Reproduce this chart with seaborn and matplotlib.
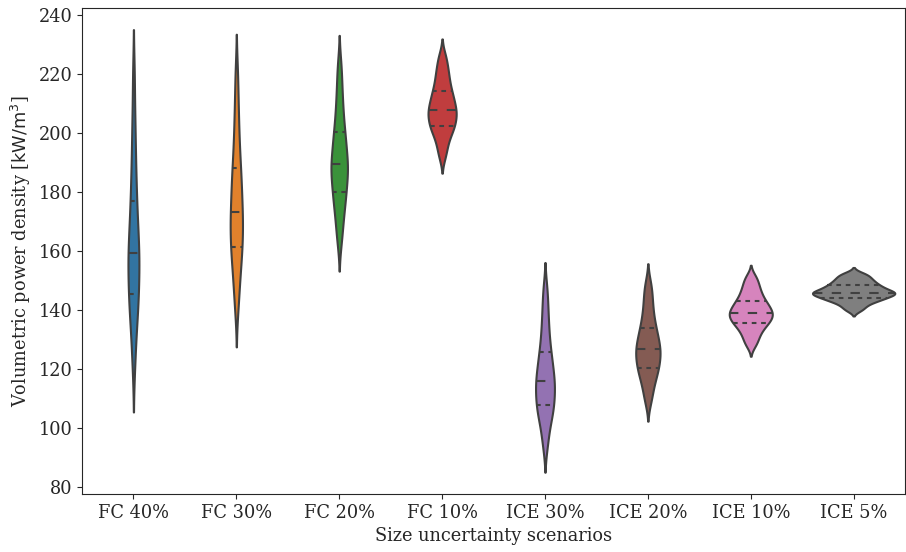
import numpy as np
import pandas as pd
import seaborn as sns
from matplotlib import pyplot as plt

scenarios = ['FC 40%', 'FC 30%', 'FC 20%', 'FC 10%', 'ICE 30%', 'ICE 20%', 'ICE 10%', 'ICE 5%']

# volumetric power density samples [kW/m3]
fc40 = [121, 129, 134, 138, 141, 143.5, 145.4, 148, 151, 153.5, 155.5, 157.5, 159.3,
        161.5, 164, 167, 170, 173.5, 177, 181.5, 186.5, 192, 199, 207, 219.5]
fc30 = [140.5, 146, 150.5, 154, 156.8, 159.2, 161.3, 163.5, 165.5, 167.5, 169.5, 171.5, 173.3,
        175.5, 178, 180.5, 183, 185.5, 188, 191.5, 195.5, 200, 205.5, 212, 220.5]
fc20 = [163, 167.5, 171, 174, 176.3, 178.3, 180.1, 182, 183.8, 185.5, 187, 188.3, 189.4,
        190.8, 192.5, 194.5, 196.5, 198.3, 200.2, 202.8, 205.8, 209.2, 213, 217.8, 223.3]
fc10 = [192, 195, 197.3, 199.2, 200.6, 201.6, 202.5, 203.5, 204.5, 205.5, 206.3, 207.1, 207.9,
        208.8, 209.8, 210.9, 212, 213.1, 214.3, 215.8, 217.5, 219.3, 221.2, 223.5, 226.3]
ice30 = [93.7, 98, 101.3, 103.5, 105.2, 106.6, 107.8, 109.3, 110.8, 112.2, 113.5, 114.7, 115.9,
         117.2, 118.7, 120.3, 122, 123.8, 125.7, 128.2, 131, 134.3, 138, 142.3, 147.4]
ice20 = [108.9, 112, 114.5, 116.5, 118, 119.3, 120.4, 121.6, 122.7, 123.8, 124.8, 125.8, 126.7,
         127.7, 128.8, 130, 131.2, 132.6, 134, 135.8, 137.8, 140.2, 142.9, 145.8, 149.1]
ice10 = [128.1, 130, 131.6, 132.9, 134, 134.9, 135.6, 136.3, 136.9, 137.5, 138.1, 138.6, 139.1,
         139.7, 140.3, 141, 141.7, 142.4, 143.2, 144.2, 145.3, 146.5, 147.9, 149.5, 151.4]
ice5 = [140, 141.2, 142.2, 142.9, 143.4, 143.8, 144.2, 144.6, 145, 145.3, 145.6, 145.8, 145.9,
        146.3, 146.7, 147.1, 147.5, 147.9, 148.4, 148.9, 149.5, 150.1, 150.8, 151.6, 152.4]

samples = [fc40, fc30, fc20, fc10, ice30, ice20, ice10, ice5]

df = pd.DataFrame({
    'scenario': np.repeat(scenarios, [len(s) for s in samples]),
    'density': np.concatenate(samples),
})

sns.set_style('ticks')
plt.rcParams['font.family'] = ['DejaVu Serif']
plt.rcParams['xtick.major.size'] = 3.5
plt.rcParams['ytick.major.size'] = 3.5

fig, ax = plt.subplots(figsize=(9.06, 5.52), dpi=100)
sns.violinplot(data=df, x='scenario', y='density', hue='scenario', palette='tab10',
               order=scenarios, hue_order=scenarios, legend=False, inner='quart',
               common_norm=True, bw_adjust=0.6, linewidth=1.5, linecolor='.25', ax=ax)

# old-style quartile dashes: long for the median, short for the quartiles
for i, line in enumerate(ax.lines):
    line.set_linewidth(1.5)
    if i % 3 == 1:
        line.set_dashes([4.5, 4.5])
    else:
        line.set_dashes([2.25, 2.25])

ax.set_ylim(77.6, 242.4)
ax.set_xlabel('Size uncertainty scenarios', fontsize=12.8)
ax.set_ylabel('Volumetric power density [$\\mathrm{kW/m^3}$]', fontsize=12.8)
ax.tick_params(labelsize=12.8)

fig.subplots_adjust(left=0.0905, right=0.999, top=0.9855, bottom=0.105)
fig.savefig('out.png', dpi=100)
